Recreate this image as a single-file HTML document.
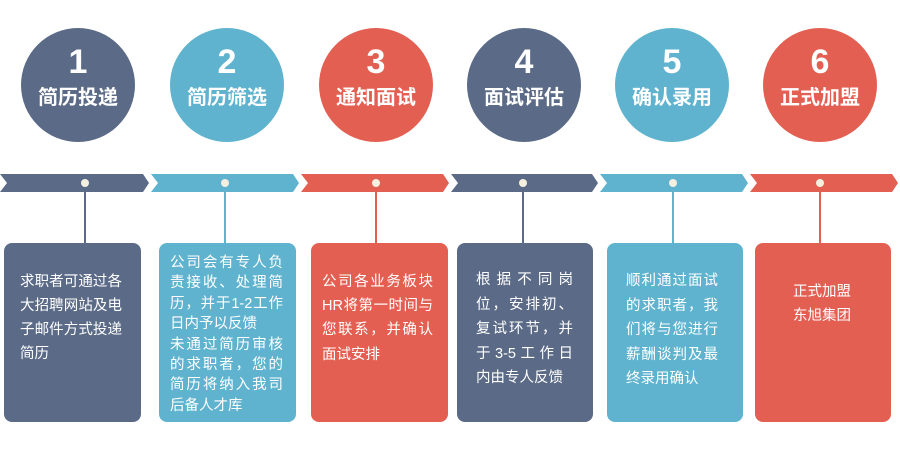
<!DOCTYPE html>
<html><head><meta charset="utf-8"><style>
body{margin:0;width:900px;height:454px;background:#fff;position:relative;overflow:hidden;font-family:"Liberation Sans","Noto Sans CJK SC",sans-serif}
.c{position:absolute;width:114px;height:114px;border-radius:50%;color:#fff;text-align:center}
.c .n{position:absolute;top:17px;left:0;right:0;font-size:34px;font-weight:bold;line-height:34px}
.c .l{position:absolute;top:58px;left:0;right:0;font-size:20px;font-weight:bold;line-height:24px}
.b{position:absolute;top:243px;height:179px;border-radius:8px;color:#fff;font-size:14.5px;box-sizing:border-box}
.b div{position:absolute;white-space:nowrap;text-align:justify;text-align-last:justify;line-height:18px}
.b div.e{text-align-last:left}
.s{background:#5b6b87}.u{background:#5fb3cf}.r{background:#e35f52}
</style></head><body>
<div class="c s" style="left:21px;top:28px"><div class="n">1</div><div class="l">简历投递</div></div>
<div class="c u" style="left:170px;top:28px"><div class="n">2</div><div class="l">简历筛选</div></div>
<div class="c r" style="left:319px;top:28px"><div class="n">3</div><div class="l">通知面试</div></div>
<div class="c s" style="left:467px;top:28px"><div class="n">4</div><div class="l">面试评估</div></div>
<div class="c u" style="left:615px;top:28px"><div class="n">5</div><div class="l">确认录用</div></div>
<div class="c r" style="left:763px;top:28px"><div class="n">6</div><div class="l">正式加盟</div></div>
<svg style="position:absolute;left:0;top:0" width="900" height="454">
<g>
<polygon points="0,174 143,174 149,183 143,192 0,192 7,183" fill="#5b6b87"/>
<polygon points="151,174 293,174 299,183 293,192 151,192 158,183" fill="#5fb3cf"/>
<polygon points="301,174 443,174 449,183 443,192 301,192 308,183" fill="#e35f52"/>
<polygon points="451,174 592,174 598,183 592,192 451,192 458,183" fill="#5b6b87"/>
<polygon points="600,174 742,174 748,183 742,192 600,192 607,183" fill="#5fb3cf"/>
<polygon points="750,174 892,174 898,183 892,192 750,192 757,183" fill="#e35f52"/>
</g>
<g stroke-width="2">
<line x1="85" y1="186" x2="85" y2="244" stroke="#5b6b87"/>
<line x1="225" y1="186" x2="225" y2="244" stroke="#5fb3cf"/>
<line x1="376" y1="186" x2="376" y2="244" stroke="#e35f52"/>
<line x1="523" y1="186" x2="523" y2="244" stroke="#5b6b87"/>
<line x1="673" y1="186" x2="673" y2="244" stroke="#5fb3cf"/>
<line x1="820" y1="186" x2="820" y2="244" stroke="#e35f52"/>
</g>
<g fill="#f5efe0">
<circle cx="85" cy="183" r="4"/><circle cx="225" cy="183" r="4"/><circle cx="376" cy="183" r="4"/>
<circle cx="523" cy="183" r="4"/><circle cx="673" cy="183" r="4"/><circle cx="820" cy="183" r="4"/>
</g>
</svg>
<div class="b s" style="left:4px;width:137px">
<div style="left:16px;top:30px;width:102px">求职者可通过各</div><div style="left:16px;top:54px;width:102px">大招聘网站及电</div><div style="left:16px;top:78px;width:102px">子邮件方式投递</div><div class="e" style="left:16px;top:102px">简历</div></div>
<div class="b u" style="left:159px;width:137px">
<div style="left:11px;top:11px;width:113px">公司会有专人负</div><div style="left:11px;top:31px;width:113px">责接收、处理简</div><div style="left:11px;top:52px;width:113px">历，并于1-2工作</div><div class="e" style="left:11px;top:72px">日内予以反馈</div><div style="left:11px;top:93px;width:113px">未通过简历审核</div><div style="left:11px;top:113px;width:113px">的求职者，您的</div><div style="left:11px;top:133px;width:113px">简历将纳入我司</div><div class="e" style="left:11px;top:154px">后备人才库</div></div>
<div class="b r" style="left:311px;width:137px">
<div style="left:11px;top:30px;width:111px">公司各业务板块</div><div style="left:11px;top:54px;width:111px">HR将第一时间与</div><div style="left:11px;top:78px;width:111px">您联系，并确认</div><div class="e" style="left:11px;top:103px">面试安排</div></div>
<div class="b s" style="left:457px;width:136px">
<div style="left:19px;top:28px;width:97px">根据不同岗</div><div style="left:19px;top:53px;width:97px">位，安排初、</div><div style="left:19px;top:77px;width:97px">复试环节，并</div><div style="left:19px;top:102px;width:97px">于3-5工作日</div><div class="e" style="left:19px;top:126px">内由专人反馈</div></div>
<div class="b u" style="left:607px;width:136px">
<div style="left:19px;top:29px;width:92px">顺利通过面试</div><div style="left:19px;top:54px;width:92px">的求职者，我</div><div style="left:19px;top:78px;width:92px">们将与您进行</div><div style="left:19px;top:103px;width:92px">薪酬谈判及最</div><div class="e" style="left:19px;top:127px">终录用确认</div></div>
<div class="b r" style="left:755px;width:136px">
<div class="e" style="left:38px;top:40px">正式加盟</div><div class="e" style="left:38px;top:64px">东旭集团</div></div>
</body></html>
